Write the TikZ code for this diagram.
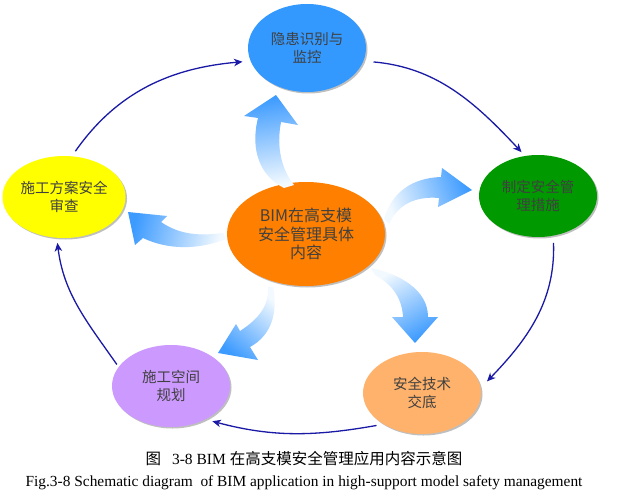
\documentclass[tikz,border=0pt]{standalone}
\usepackage{fontspec}
\setmainfont{Liberation Serif}
\newfontfamily\cjk{Noto Sans CJK SC}
\usetikzlibrary{shapes.geometric,shadows,arrows.meta}
\definecolor{cblue}{HTML}{3399FF}
\definecolor{corange}{HTML}{FF8000}
\definecolor{cyellow}{HTML}{FFFF00}
\definecolor{cgreen}{HTML}{009900}
\definecolor{cpurple}{HTML}{CC99FF}
\definecolor{cpeach}{HTML}{FFB26B}
\definecolor{txt}{HTML}{404040}
\definecolor{lnk}{HTML}{1A1AA6}
\definecolor{arrblue}{HTML}{3D9BFF}
\definecolor{arrlight}{HTML}{F2F9FF}
\begin{document}
\begin{tikzpicture}[x=1pt,y=-1pt,
  bub/.style={ellipse, minimum width=118pt, minimum height=82pt, inner sep=0pt,
    align=center, font=\cjk\fontsize{14.5}{17.5}\selectfont, text=txt,
    drop shadow={shadow xshift=1.5pt,shadow yshift=-1.5pt,fill=black!45,opacity=0.55}},
  link/.style={draw=lnk, line width=1.3pt, -{Stealth[length=8.5pt,width=7.5pt,inset=2.5pt]}},
  fat/.style={top color=arrblue, bottom color=arrlight}]
\useasboundingbox (0,0) rectangle (628,500);
\fill[white] (0,0) rectangle (628,500);

% ellipses
\node[bub, fill=cblue, minimum height=88pt] (blu) at (307,48) {隐患识别与\\监控};
\node[bub, fill=cyellow] (yel) at (64,197) {施工方案安全\\审查};
\node[bub, fill=cgreen] (grn) at (538,196) {制定安全管\\理措施};
\node[bub, fill=cpurple] (pur) at (171,386) {施工空间\\规划};
\node[bub, fill=cpeach] (pea) at (422,393) {安全技术\\交底};
\node[bub, fill=corange, minimum width=158pt, minimum height=104pt,
      font=\cjk\fontsize{16}{18.5}\selectfont] (cen) at (306,234) {BIM在高支模\\安全管理具体\\内容};

% broad gradient arrows
\shade[fat, shading angle=10] (284,188) .. controls (260,176) and (250,150) .. (258,118)
  -- (244,116) -- (276,95) -- (298,125) -- (281,122)
  .. controls (276,148) and (282,170) .. (294,185) -- cycle;
\shade[fat, shading angle=76] (223,233) .. controls (200,236) and (180,235) .. (161,222)
  -- (167,216) -- (128,212) -- (135,245) -- (143,238)
  .. controls (168,250) and (198,250) .. (226,239) -- cycle;
\shade[fat, shading angle=-70] (384,219) .. controls (392,192) and (412,178) .. (441,177)
  -- (442,168) -- (472,190) -- (438,207) -- (439,198)
  .. controls (416,196) and (398,204) .. (389,224) -- cycle;
\shade[fat, shading angle=-150] (371,268) .. controls (400,274) and (428,290) .. (428,317)
  -- (438,317) -- (415,343) -- (392,317) -- (403,317)
  .. controls (402,298) and (392,284) .. (375,275) -- cycle;
\shade[fat, shading angle=140] (273,287) .. controls (278,312) and (272,335) .. (250,347)
  -- (258,360) -- (218,353) -- (236,324) -- (240,331)
  .. controls (260,318) and (269,305) .. (268,287) -- cycle;

% cycle connectors
\draw[link, shorten <=6pt, shorten >=8pt] (yel.79) to[out=55,in=185] (blu.193);
\draw[link, shorten <=10pt, shorten >=5pt] (blu.-13) to[out=-5,in=133] (grn.108);
\draw[link, shorten <=7pt, shorten >=9pt] (grn.-69) to[out=-88,in=46] (pea.5);
\draw[link, shorten <=7pt, shorten >=7pt] (pea.219) to[out=190,in=-15] (pur.-44);
\draw[link, shorten <=3pt, shorten >=5pt] (pur.160) to[out=125,in=-83] (yel.260);

% captions
\node[font=\fontsize{15.5}{18}\selectfont, text=black] (cap1) at (304,459)
  {{\cjk 图}\hspace{0.7em}3-8 BIM {\cjk 在高支模安全管理应用内容示意图}};
\node[font=\fontsize{15.4}{17}\selectfont, text=black] (cap2) at (304,483)
  {Fig.3-8 Schematic diagram\ \ of BIM application in high-support model safety management};
\end{tikzpicture}
\end{document}
